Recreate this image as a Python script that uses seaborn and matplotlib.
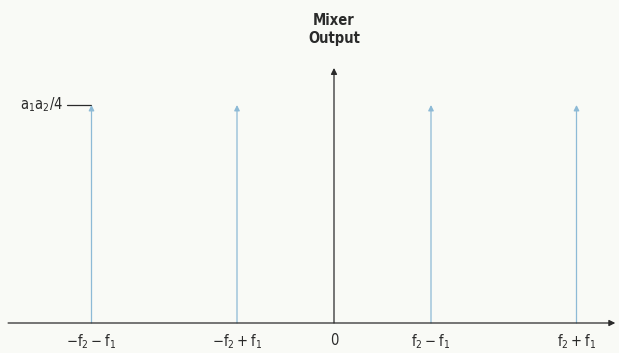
import numpy as np
import matplotlib
matplotlib.use("Agg")
import matplotlib.pyplot as plt
import seaborn as sns

# spectrum data (in units of f2 - f1)
freqs = [-2.5, -1.0, 1.0, 2.5]
amps = [1.0, 1.0, 1.0, 1.0]
tick_pos = [-2.5, -1.0, 0.0, 1.0, 2.5]
tick_labels = [r"$-\mathregular{f_2 - f_1}$", r"$-\mathregular{f_2 + f_1}$", "0",
               r"$\mathregular{f_2 - f_1}$", r"$\mathregular{f_2 + f_1}$"]
amp_label = r"$\mathregular{a_1 a_2 / 4}$"
y_title = "Mixer\nOutput"

sns.set_theme(style="white")
plt.rcParams['font.family'] = ['DejaVu Sans']
plt.rcParams['font.stretch'] = 'condensed'

bg = "#f9faf6"
blue = "#8dbad6"
ink = "#2a2a2a"

fig = plt.figure(figsize=(6.19, 3.53), dpi=100, facecolor=bg)
ax = fig.add_axes([0, 30 / 353, 1, 323 / 353])
ax.set_facecolor(bg)
ax.set_xlim(-334 / 97, (619 - 334) / 97)
ax.set_ylim(0, 323 / 218)

# impulses
for f, a in zip(freqs, amps):
    ax.annotate("", xy=(f, a), xytext=(f, 0),
                arrowprops=dict(arrowstyle="-|>", color=blue, lw=0.9,
                                mutation_scale=8, shrinkA=0, shrinkB=0))

# axes arrows
ax.annotate("", xy=(2.9, 0), xytext=(-3.36, 0),
            arrowprops=dict(arrowstyle="-|>", color=ink, lw=0.9,
                            mutation_scale=9, shrinkA=0, shrinkB=0))
ax.annotate("", xy=(0, 1.17), xytext=(0, 0),
            arrowprops=dict(arrowstyle="-|>", color=ink, lw=0.9,
                            mutation_scale=9, shrinkA=0, shrinkB=0))

# amplitude marker
ax.plot([-2.75, -2.5], [1.0, 1.0], color=ink, lw=0.9)
ax.text(-2.79, 1.0, amp_label, ha="right", va="center", fontsize=10.5, color=ink)

ax.text(0, 1.27, y_title, ha="center", va="bottom", fontsize=10.5,
        fontweight="bold", color=ink, linespacing=1.3)

ax.set_xticks(tick_pos)
ax.set_xticklabels(tick_labels, fontsize=10.5, color=ink)
ax.tick_params(axis="x", length=0, pad=7)
ax.set_yticks([])
sns.despine(ax=ax, left=True, bottom=True)

fig.savefig("out.png", dpi=100, facecolor=bg)
